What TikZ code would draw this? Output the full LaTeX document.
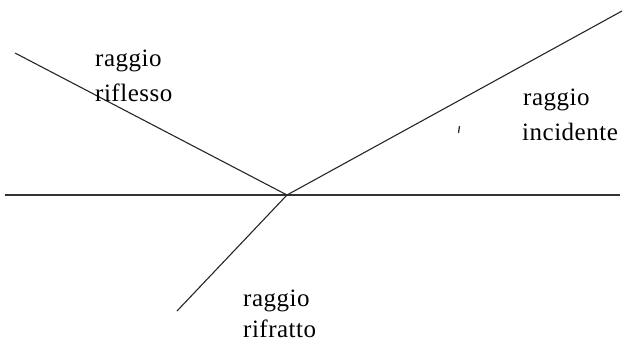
\documentclass[tikz,border=0pt]{standalone}
\usepackage{fontspec}
\newfontfamily\lblfont[LetterSpace=2]{Liberation Serif}
\begin{document}
\begin{tikzpicture}[x=1pt,y=-1pt,
  ray/.style={draw=black!85,line width=1.1pt},
  surf/.style={draw=black!80,line width=1.5pt},
  lbl/.style={inner sep=0pt,anchor=base west,font=\lblfont\fontsize{25}{34}\selectfont,text=black}]
\useasboundingbox (0,0) rectangle (623,342);
\coordinate (O) at (287,195);
\coordinate (L) at (5,195);
\coordinate (R) at (620,195);
\coordinate (A) at (15,53);
\coordinate (B) at (622,11);
\coordinate (C) at (177,311);
\draw[surf] (L) -- (R);
\draw[ray] (A) -- (O);
\draw[ray] (O) -- (B);
\draw[ray] (O) -- (C);
\coordinate (t1) at (459.5,126);
\coordinate (t2) at (458.5,133);
\draw[line width=1.3pt,black!80] (t1) -- (t2);
\node[lbl] (rf1) at (95,67) {raggio};
\node[lbl] (rf2) at (95,102) {riflesso};
\node[lbl] (in1) at (523,106) {raggio};
\node[lbl] (in2) at (522,140) {incidente};
\node[lbl] (rr1) at (243,306) {raggio};
\node[lbl] (rr2) at (243,337) {rifratto};
\end{tikzpicture}
\end{document}
